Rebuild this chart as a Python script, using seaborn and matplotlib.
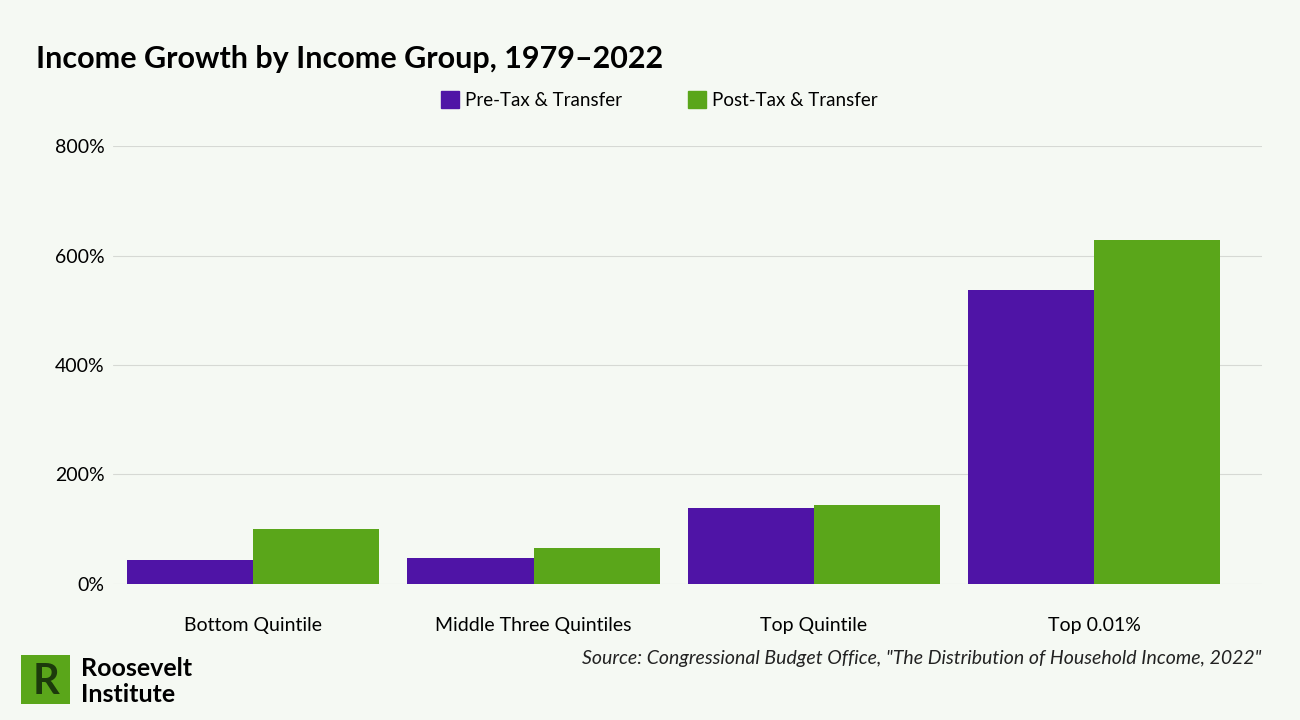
import numpy as np
import pandas as pd
import matplotlib.pyplot as plt
import matplotlib.patches as mpatches
import seaborn as sns

groups = ["Bottom Quintile", "Middle Three Quintiles", "Top Quintile", "Top 0.01%"]
pre_tax = [44, 47, 139, 537]
post_tax = [100, 66, 144, 628]
series = ["Pre-Tax & Transfer", "Post-Tax & Transfer"]
colors = ["#4f14a6", "#5aa61a"]
bg = "#f5f9f3"

df = pd.DataFrame({
    "group": groups * 2,
    "series": [series[0]] * 4 + [series[1]] * 4,
    "value": pre_tax + post_tax,
})

sns.set_style("white")
plt.rcParams['font.family'] = ['Lato', 'DejaVu Sans']
plt.rcParams['text.color'] = 'black'

fig = plt.figure(figsize=(13, 7.2), dpi=100, facecolor=bg)
ax = fig.add_axes([0.087, 0.189, 0.884, 0.608])
ax.set_facecolor(bg)
sns.barplot(data=df, x="group", y="value", hue="series", palette=colors,
            width=0.9, saturation=1, linewidth=0, ax=ax, legend=False)

ax.set_xlim(-0.5, 3.6)
ax.set_ylim(0, 800)
ax.set_yticks([0, 200, 400, 600, 800])
ax.set_yticklabels([f"{v}%" for v in [0, 200, 400, 600, 800]], fontsize=14)
ax.tick_params(axis='x', labelsize=14, length=0, pad=24, colors='black')
ax.tick_params(axis='y', length=0, pad=6, colors='black')
ax.grid(axis='y', color="#d6d9d4", linewidth=0.8)
ax.set_axisbelow(True)
for s in ax.spines.values():
    s.set_visible(False)
ax.set_xlabel("")
ax.set_ylabel("")

fig.text(0.028, 0.905, "Income Growth by Income Group, 1979\u20132022",
         fontsize=22, fontweight='bold')
handles = [mpatches.Patch(color=c, label=l) for c, l in zip(colors, series)]
fig.legend(handles=handles, loc='center', bbox_to_anchor=(0.507, 0.861), ncol=2,
           frameon=False, fontsize=13.5, handlelength=1.0, handleheight=1.0,
           handletextpad=0.3, columnspacing=3.5)
fig.text(0.97, 0.078, 'Source: Congressional Budget Office, "The Distribution of Household Income, 2022"',
         fontsize=14, style='italic', ha='right', color="#222222")

# logo
lax = fig.add_axes([0.016, 0.022, 0.038, 0.068])
lax.set_facecolor("#5aa61a")
lax.set_xticks([]); lax.set_yticks([])
for s in lax.spines.values():
    s.set_visible(False)
lax.text(0.5, 0.45, "R", color="#1c3a0c", fontsize=30, fontweight='bold',
         ha='center', va='center', transform=lax.transAxes)
fig.text(0.062, 0.072, "Roosevelt", fontsize=18, fontweight='bold', va='center')
fig.text(0.062, 0.036, "Institute", fontsize=18, fontweight='bold', va='center')

fig.savefig("out.png", facecolor=bg)
